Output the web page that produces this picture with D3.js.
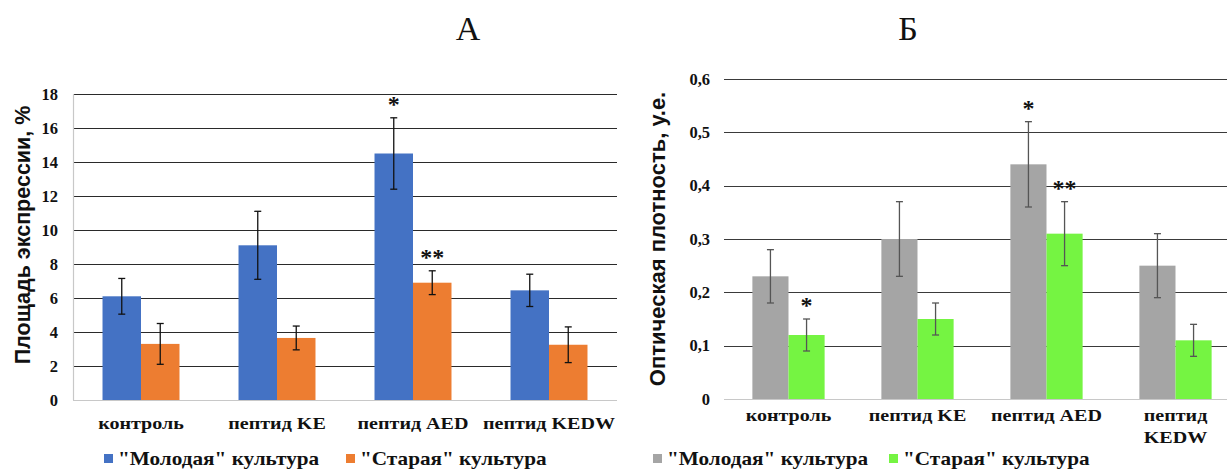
<!DOCTYPE html>
<html>
<head>
<meta charset="utf-8">
<script src="https://cdn.jsdelivr.net/npm/d3@7"></script>
<style>
  body { margin: 0; background: #fff; }
</style>
</head>
<body>
<div id="chart"></div>
<script>
const categories = ["контроль", "пептид KE", "пептид AED", "пептид KEDW"];
const seriesNames = ["\"Молодая\" культура", "\"Старая\" культура"];

// panel A - площадь экспрессии, %
const youngA = [6.1, 9.1, 14.5, 6.45];
const youngAErr = [1.05, 2.0, 2.1, 0.95];
const oldA = [3.3, 3.65, 6.9, 3.25];
const oldAErr = [1.2, 0.7, 0.7, 1.05];
const starsYoungA = ["", "", "*", ""];
const starsOldA = ["", "", "**", ""];
const ticksA = [0, 2, 4, 6, 8, 10, 12, 14, 16, 18];

// panel B - оптическая плотность
const youngB = [0.23, 0.30, 0.44, 0.25];
const youngBErr = [0.05, 0.07, 0.08, 0.06];
const oldB = [0.12, 0.15, 0.31, 0.11];
const oldBErr = [0.03, 0.03, 0.06, 0.03];
const starsYoungB = ["", "", "*", ""];
const starsOldB = ["*", "", "**", ""];
const ticksB = [0, 0.1, 0.2, 0.3, 0.4, 0.5, 0.6];

const width = 1229, height = 470;
const svg = d3.select("#chart").append("svg")
  .attr("width", width).attr("height", height);

const serif = "Liberation Serif";
const sans = "Liberation Sans";
const stretch = 1.18; // the source figure is a bit wider than it is tall

function drawPanel(p) {
  const g = svg.append("g");
  const y = d3.scaleLinear().domain([0, p.max]).range([p.bottom, p.top]);
  const x0 = d3.scaleBand().domain(categories).range([p.left, p.right])
    .paddingInner(p.padIn).paddingOuter(p.padIn / 2);
  const x1 = d3.scaleBand().domain([0, 1]).range([0, x0.bandwidth()]);

  // gridlines
  g.append("g").selectAll("line").data(p.ticks.filter(t => t > 0)).join("line")
    .attr("x1", p.left).attr("x2", p.gridRight)
    .attr("y1", d => Math.round(y(d)) + 0.5).attr("y2", d => Math.round(y(d)) + 0.5)
    .attr("stroke", p.gridColor).attr("stroke-width", 1.2);

  // tick labels
  g.append("g").selectAll("text").data(p.ticks).join("text")
    .attr("x", p.tickX).attr("y", d => y(d)).attr("dy", "0.35em")
    .attr("text-anchor", "end").attr("fill", "#111")
    .attr("font-family", serif).attr("font-weight", "bold").attr("font-size", 16.5)
    .text(p.fmt);

  const rows = categories.map((c, i) => ({
    c, vals: [
      { s: 0, v: p.young[i], e: p.youngErr[i], star: p.starsYoung[i] },
      { s: 1, v: p.old[i], e: p.oldErr[i], star: p.starsOld[i] }
    ]
  }));

  const grp = g.append("g").selectAll("g").data(rows).join("g")
    .attr("transform", d => `translate(${x0(d.c)},0)`);

  grp.selectAll("rect").data(d => d.vals).join("rect")
    .attr("x", d => x1(d.s)).attr("width", x1.bandwidth())
    .attr("y", d => y(d.v)).attr("height", d => y(0) - y(d.v))
    .attr("fill", d => p.colors[d.s]);

  // error bars
  const eb = grp.selectAll("g.err").data(d => d.vals).join("g").attr("class", "err")
    .attr("stroke", p.errColor).attr("stroke-width", 1.3);
  const cx = d => x1(d.s) + x1.bandwidth() / 2;
  eb.append("line").attr("x1", cx).attr("x2", cx)
    .attr("y1", d => y(d.v + d.e)).attr("y2", d => y(d.v - d.e));
  eb.append("line").attr("x1", d => cx(d) - 3.5).attr("x2", d => cx(d) + 3.5)
    .attr("y1", d => y(d.v + d.e)).attr("y2", d => y(d.v + d.e));
  eb.append("line").attr("x1", d => cx(d) - 3.5).attr("x2", d => cx(d) + 3.5)
    .attr("y1", d => y(d.v - d.e)).attr("y2", d => y(d.v - d.e));

  // significance marks
  grp.selectAll("text.star").data(d => d.vals.filter(v => v.star)).join("text")
    .attr("class", "star")
    .attr("x", cx).attr("y", d => y(d.v + d.e) - 6)
    .attr("text-anchor", "middle").attr("fill", "#111")
    .attr("font-family", serif).attr("font-weight", "bold").attr("font-size", 24)
    .text(d => d.star);

  // baseline
  g.append("line").attr("x1", p.left).attr("x2", p.gridRight)
    .attr("y1", y(0) + 0.5).attr("y2", y(0) + 0.5)
    .attr("stroke", "#c8c8c8").attr("stroke-width", 1.2);
  if (p.leftAxis) {
    g.append("line").attr("x1", p.left + 0.5).attr("x2", p.left + 0.5)
      .attr("y1", p.top).attr("y2", p.bottom)
      .attr("stroke", "#c8c8c8").attr("stroke-width", 1.2);
  }

  // category labels
  g.append("g").selectAll("text").data(categories).join("text")
    .attr("transform", d => `translate(${x0(d) + x0.bandwidth() / 2},${p.catY}) scale(${stretch},1)`)
    .attr("text-anchor", "middle").attr("fill", "#111")
    .attr("font-family", serif).attr("font-weight", "bold").attr("font-size", 17)
    .each(function (d) {
      const lines = p.wrap && d === "пептид KEDW" ? ["пептид", "KEDW"] : [d];
      d3.select(this).selectAll("tspan").data(lines).join("tspan")
        .attr("x", 0)
        .attr("dy", (l, i) => i ? "1.3em" : 0)
        .text(l => l);
    });

  // axis title
  g.append("text")
    .attr("transform", `translate(${p.titleX},${p.titleY}) rotate(-90)`)
    .attr("text-anchor", "middle").attr("fill", "#111")
    .attr("font-family", sans).attr("font-weight", "bold").attr("font-size", p.titleSize)
    .text(p.yTitle);

  // panel letter
  g.append("text").attr("x", p.letterX).attr("y", 40).attr("text-anchor", "middle")
    .attr("fill", "#111").attr("font-family", serif).attr("font-size", 34)
    .text(p.letter);

  // legend
  const lg = g.append("g").selectAll("g").data(seriesNames).join("g")
    .attr("transform", (d, i) => `translate(${p.legendX[i]},${459})`);
  lg.append("rect").attr("x", 0).attr("y", -5).attr("width", 9).attr("height", 9)
    .attr("fill", (d, i) => p.colors[i]);
  lg.append("text").attr("transform", `translate(14,0) scale(${stretch},1)`)
    .attr("dy", "0.35em").attr("fill", "#111")
    .attr("font-family", serif).attr("font-weight", "bold").attr("font-size", 18)
    .text(d => d);
}

drawPanel({
  letter: "А", letterX: 468,
  left: 73, right: 617, gridRight: 617, top: 94, bottom: 400, max: 18,
  padIn: 0.434, ticks: ticksA, fmt: d => d, tickX: 58,
  young: youngA, youngErr: youngAErr, old: oldA, oldErr: oldAErr,
  starsYoung: starsYoungA, starsOld: starsOldA,
  colors: ["#4472C4", "#ED7D31"], errColor: "#111", gridColor: "#2a2a2a",
  leftAxis: true, catY: 429, wrap: false,
  yTitle: "Площадь экспрессии, %", titleX: 30, titleY: 235, titleSize: 21.5,
  legendX: [104, 346]
});

drawPanel({
  letter: "Б", letterX: 908,
  left: 724, right: 1240, gridRight: 1227, top: 79, bottom: 399, max: 0.6,
  padIn: 0.44, ticks: ticksB, fmt: d => d === 0 ? "0" : d3.format(".1f")(d).replace(".", ","),
  tickX: 710,
  young: youngB, youngErr: youngBErr, old: oldB, oldErr: oldBErr,
  starsYoung: starsYoungB, starsOld: starsOldB,
  colors: ["#A5A5A5", "#75F442"], errColor: "#555", gridColor: "#3a3a3a",
  leftAxis: false, catY: 421, wrap: true,
  yTitle: "Оптическая плотность, у.е.", titleX: 665, titleY: 239, titleSize: 22,
  legendX: [653, 889]
});
</script>
</body>
</html>
